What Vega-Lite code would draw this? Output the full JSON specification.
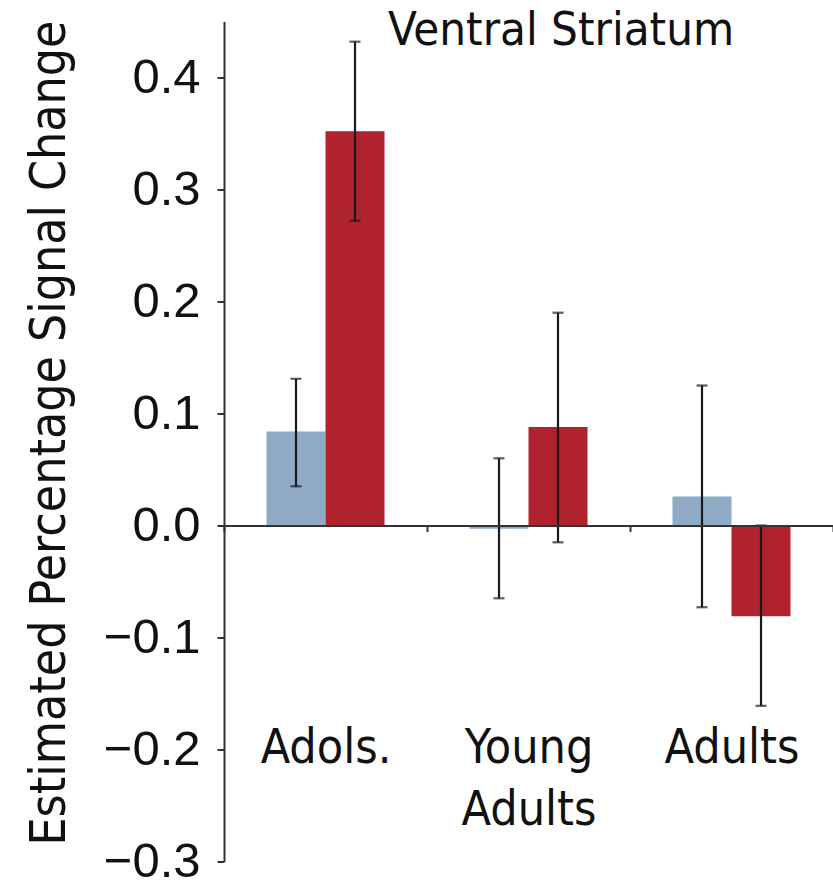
{
  "$schema": "https://vega.github.io/schema/vega-lite/v6.json",
  "autosize": "none",
  "width": 609,
  "height": 840,
  "padding": {"left": 224, "top": 21.5, "right": 0, "bottom": 20.5},
  "background": "white",
  "title": {
    "text": "Ventral Striatum",
    "anchor": "start",
    "frame": "group",
    "dx": 164,
    "offset": -35,
    "font": "DejaVu Sans Condensed, sans-serif",
    "fontSize": 47,
    "fontWeight": "normal",
    "color": "#111111"
  },
  "config": {"view": {"stroke": null}},
  "data": {
    "values": [
      {"group": "Adols.", "cond": "Condition 1", "value": 0.084, "lo": 0.035, "hi": 0.131},
      {"group": "Adols.", "cond": "Condition 2", "value": 0.352, "lo": 0.272, "hi": 0.432},
      {"group": "Young Adults", "cond": "Condition 1", "value": -0.003, "lo": -0.065, "hi": 0.060},
      {"group": "Young Adults", "cond": "Condition 2", "value": 0.088, "lo": -0.015, "hi": 0.190},
      {"group": "Adults", "cond": "Condition 1", "value": 0.026, "lo": -0.073, "hi": 0.125},
      {"group": "Adults", "cond": "Condition 2", "value": -0.081, "lo": -0.161, "hi": 0.0}
    ]
  },
  "encoding": {
    "x": {
      "field": "group",
      "type": "nominal",
      "sort": ["Adols.", "Young Adults", "Adults"],
      "scale": {"paddingInner": 0, "paddingOuter": 0},
      "axis": {
        "title": null,
        "offset": -336,
        "zindex": 1,
        "domainColor": "#333333",
        "domainWidth": 2,
        "tickBand": "extent",
        "tickSize": 6,
        "tickWidth": 2,
        "tickColor": "#333333",
        "labelAngle": 0,
        "labelAlign": "center",
        "labelBaseline": "top",
        "labelPadding": 193,
        "labelLineHeight": 62,
        "labelOverlap": false,
        "labelFont": "DejaVu Sans Condensed, sans-serif",
        "labelFontSize": 48,
        "labelColor": "#111111",
        "labelExpr": "datum.label == 'Young Adults' ? ['Young', 'Adults'] : datum.label"
      }
    },
    "xOffset": {
      "field": "cond",
      "type": "nominal",
      "scale": {"paddingOuter": 0.72, "paddingInner": 0}
    },
    "y": {
      "field": "value",
      "type": "quantitative",
      "scale": {"domain": [-0.3, 0.45], "nice": false, "zero": false},
      "axis": {
        "title": "Estimated Percentage Signal Change",
        "titleFont": "DejaVu Sans Condensed, sans-serif",
        "titleFontSize": 49.5,
        "titleFontWeight": "normal",
        "titleColor": "#111111",
        "titleAngle": -90,
        "titleAlign": "center",
        "titleBaseline": "alphabetic",
        "titleX": -160,
        "titleY": 411,
        "values": [-0.3, -0.2, -0.1, 0, 0.1, 0.2, 0.3, 0.4],
        "format": ".1f",
        "grid": false,
        "domainColor": "#333333",
        "domainWidth": 2,
        "tickColor": "#333333",
        "tickWidth": 2,
        "tickSize": 7,
        "labelPadding": 17,
        "labelFont": "Liberation Sans, Arial, sans-serif",
        "labelFontSize": 49,
        "labelColor": "#111111",
        "labelBaseline": "middle",
        "labelFlush": false,
        "labelOverlap": false
      }
    }
  },
  "layer": [
    {
      "mark": {"type": "bar"},
      "encoding": {
        "color": {
          "field": "cond",
          "type": "nominal",
          "scale": {"domain": ["Condition 1", "Condition 2"], "range": ["#8fabc6", "#b0232e"]},
          "legend": null
        }
      }
    },
    {
      "mark": {"type": "rule", "color": "#1a1a1a", "strokeWidth": 2.2},
      "encoding": {
        "y": {"field": "lo", "type": "quantitative"},
        "y2": {"field": "hi"}
      }
    },
    {
      "mark": {"type": "tick", "color": "#1a1a1a", "size": 11, "thickness": 2.2},
      "encoding": {
        "y": {"field": "lo", "type": "quantitative"}
      }
    },
    {
      "mark": {"type": "tick", "color": "#1a1a1a", "size": 11, "thickness": 2.2},
      "encoding": {
        "y": {"field": "hi", "type": "quantitative"}
      }
    }
  ]
}
